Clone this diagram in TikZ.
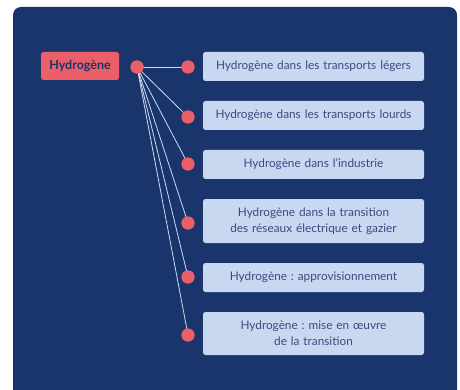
\documentclass[tikz,border=0pt]{standalone}
\usepackage{fontspec}
\setmainfont{Lato}
\frenchspacing
\definecolor{panel}{HTML}{1A356B}
\definecolor{redc}{HTML}{EB6068}
\definecolor{boxc}{HTML}{C9D8F1}
\definecolor{txtc}{HTML}{3A4A80}
\definecolor{linec}{HTML}{D0DAF0}
\begin{document}
\begin{tikzpicture}[x=1pt,y=-1pt,
  item/.style={fill=boxc,rounded corners=2.5pt,minimum width=221pt,text width=215pt,align=center,inner sep=0pt,text=txtc,font=\fontsize{11.8}{16}\selectfont},
  dot/.style={circle,fill=redc,minimum size=13pt,inner sep=0pt},
  conn/.style={draw=linec,line width=0.8pt}]
\useasboundingbox (0,0) rectangle (460,390);
\fill[panel,rounded corners=8pt] (13,7) rectangle (457,400);
\node[fill=redc,rounded corners=2.5pt,minimum width=78pt,minimum height=28pt,inner sep=0pt,text=panel,font=\fontsize{12.5}{14}\selectfont\bfseries] (h) at (80,66) {Hydrogène};
\node[item,minimum height=29pt] (b1) at (313.5,66.5) {Hydrogène dans les transports légers};
\node[item,minimum height=29pt] (b2) at (313.5,115.5) {Hydrogène dans les transports lourds};
\node[item,minimum height=29pt] (b3) at (313.5,164.5) {Hydrogène dans l’industrie};
\node[item,minimum height=44pt] (b4) at (313.5,221) {Hydrogène dans la transition\\des réseaux électrique et gazier};
\node[item,minimum height=29pt] (b5) at (313.5,277.5) {Hydrogène : approvisionnement};
\node[item,minimum height=43pt] (b6) at (313.5,333.5) {Hydrogène : mise en œuvre\\de la transition};
\node[dot] (s) at (137,67) {};
\node[dot] (d1) at (188,67) {};
\node[dot] (d2) at (188,117) {};
\node[dot] (d3) at (188,164) {};
\node[dot] (d4) at (188,223) {};
\node[dot] (d5) at (188,277) {};
\node[dot] (d6) at (188,335) {};
\foreach \i in {1,...,6} {\draw[conn] (s.center) -- (d\i.center);}
\node[dot] at (s) {};
\foreach \i in {1,...,6} {\node[dot] at (d\i) {};}
\end{tikzpicture}
\end{document}
